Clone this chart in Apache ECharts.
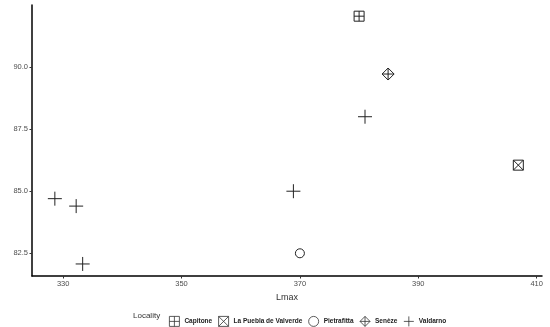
<!DOCTYPE html>
<html><head><meta charset="utf-8">
<script src="https://cdn.jsdelivr.net/npm/echarts@6/dist/echarts.min.js"></script>
<style>html,body{margin:0;padding:0;background:#fff}#c{width:550px;height:327px}</style>
</head><body><div id="c"></div>
<script>
// Data (Lmax, PTD) by locality
const localities = ['Capitone', 'La Puebla de Valverde', 'Pietrafitta', 'Senèze', 'Valdarno'];
const capitone = [[380, 92.05]];
const laPuebla = [[406.9, 86.05]];
const pietrafitta = [[370, 82.5]];
const seneze = [[384.9, 89.72]];
const valdarno = [[328.6, 84.7], [332.2, 84.4], [333.3, 82.07], [368.9, 85.0], [381.0, 88.0]];
const xTicks = [330, 350, 370, 390, 410];
const yTicks = [82.5, 85.0, 87.5, 90.0];

const sym = {
  'Capitone': 'path://M0,0 L10,0 L10,10 L0,10 Z M5,0 L5,10 M0,5 L10,5',
  'La Puebla de Valverde': 'path://M0,0 L10,0 L10,10 L0,10 Z M0,0 L10,10 M10,0 L0,10',
  'Pietrafitta': 'circle',
  'Senèze': 'path://M5,0 L10,5 L5,10 L0,5 Z M5,0 L5,10 M0,5 L10,5',
  'Valdarno': 'path://M5,0 L5,10 M0,5 L10,5'
};
const sizes = {'Capitone': 10, 'La Puebla de Valverde': 10, 'Pietrafitta': 9, 'Senèze': 12, 'Valdarno': 14};
const dataMap = {'Capitone': capitone, 'La Puebla de Valverde': laPuebla, 'Pietrafitta': pietrafitta, 'Senèze': seneze, 'Valdarno': valdarno};

const chart = echarts.init(document.getElementById('c'));
const font = 'Liberation Sans, Arial, sans-serif';
chart.setOption({
  animation: false,
  textStyle: {fontFamily: font},
  grid: {left: 32, right: 8, top: 5, bottom: 51, containLabel: false, outerBoundsMode: 'none'},
  xAxis: {
    type: 'value', min: 324.74, max: 410.9,
    name: 'Lmax', nameLocation: 'middle', nameGap: 14,
    nameTextStyle: {fontSize: 9, color: '#333'},
    axisLine: {lineStyle: {color: '#000', width: 1.5}},
    axisTick: {length: 2.5, lineStyle: {color: '#333'}, customValues: xTicks},
    axisLabel: {fontSize: 7.5, color: '#4d4d4d', margin: 4, customValues: xTicks},
    splitLine: {show: false}
  },
  yAxis: {
    type: 'value', min: 81.585, max: 92.5,
    name: 'PTD', nameLocation: 'middle', nameGap: 20, nameRotate: 90,
    nameTextStyle: {fontSize: 9, color: '#333'},
    axisLine: {show: true, lineStyle: {color: '#000', width: 1.5}},
    axisTick: {show: true, length: 2.5, lineStyle: {color: '#333'}, customValues: yTicks},
    axisLabel: {fontSize: 7.5, color: '#4d4d4d', margin: 4, customValues: yTicks, formatter: v => v.toFixed(1)},
    splitLine: {show: false}
  },
  legend: {
    left: 164, top: 311, itemWidth: 10, itemHeight: 10, itemGap: 6,
    data: localities.map(n => ({name: n, itemStyle: {color: 'rgba(0,0,0,0)', borderColor: '#333', borderWidth: 0.8}})),
    textStyle: {fontSize: 6.5, fontWeight: 'bold', color: '#222'}
  },
  graphic: [{type: 'text', left: 133, top: 312, style: {text: 'Locality', fontSize: 8, fill: '#333', fontFamily: font}}],
  series: localities.map(n => ({
    name: n, type: 'scatter', data: dataMap[n],
    symbol: sym[n], symbolSize: sizes[n],
    itemStyle: {color: 'rgba(0,0,0,0)', borderColor: '#222', borderWidth: 1, opacity: 1}
  }))
});
</script></body></html>
